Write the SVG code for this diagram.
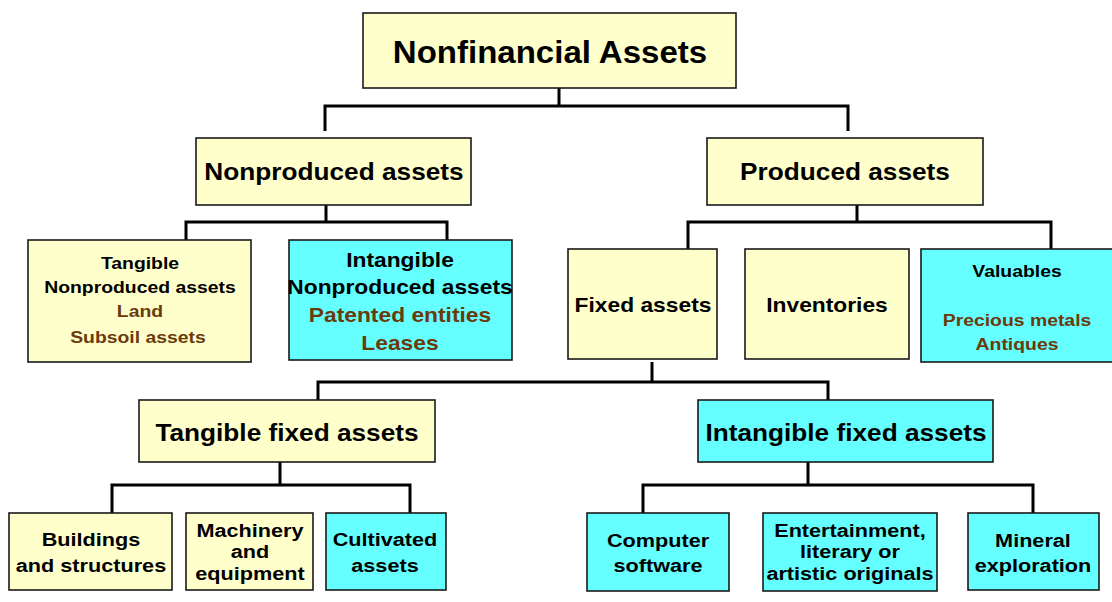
<svg xmlns="http://www.w3.org/2000/svg" width="1112" height="602" viewBox="0 0 1112 602">
<style>
.y{fill:#FFFFCC;stroke:#1a1a1a;stroke-width:1.6}
.c{fill:#66FFFF;stroke:#1a1a1a;stroke-width:1.6}
text{font-family:"Liberation Sans",Arial,sans-serif;font-weight:bold;text-anchor:middle;fill:#000;transform-box:fill-box;transform-origin:center;transform:scaleX(1.14)}
text.r{transform:scaleX(1.065)}
.b{fill:#6B3A0B}
.ln{fill:none;stroke:#000;stroke-width:3;stroke-linejoin:miter}
</style>
<rect width="1112" height="602" fill="#fff"/>
<g id="connectors">
<path class="ln" d="M559 88V106M325 131V106H848V131"/>
<path class="ln" d="M326 205V222M186 240V222H447V240"/>
<path class="ln" d="M857 205V222M688 249V222H1051V249"/>
<path class="ln" d="M652 362V382M318 400V382H828V400"/>
<path class="ln" d="M280 462V485M112 513V485H410V513"/>
<path class="ln" d="M808 462V485M643 513V485H1033V513"/>
</g>
<g id="root"><rect class="y" x="363" y="13" width="373" height="75"/><text class="r" x="550" y="63" font-size="31">Nonfinancial Assets</text></g>
<g id="nonproduced"><rect class="y" x="196" y="138" width="275" height="67"/><text x="334" y="180" font-size="23">Nonproduced assets</text></g>
<g id="produced"><rect class="y" x="707" y="138" width="276" height="67"/><text x="845" y="180" font-size="23">Produced assets</text></g>
<g id="tangible-nonproduced"><rect class="y" x="28" y="240" width="223" height="122"/>
<text x="140" y="269" font-size="17">Tangible</text><text x="140" y="293" font-size="17">Nonproduced assets</text>
<text x="140" y="317" font-size="17" class="b">Land</text><text x="138" y="343" font-size="17" class="b">Subsoil assets</text></g>
<g id="intangible-nonproduced"><rect class="c" x="289" y="240" width="223" height="120"/>
<text x="400" y="267" font-size="20">Intangible</text><text x="400" y="294" font-size="20">Nonproduced assets</text>
<text x="400" y="322" font-size="20" class="b">Patented entities</text><text x="400" y="350" font-size="20" class="b">Leases</text></g>
<g id="fixed"><rect class="y" x="568" y="249" width="149" height="110"/><text x="643" y="312" font-size="20">Fixed assets</text></g>
<g id="inventories"><rect class="y" x="745" y="249" width="164" height="110"/><text x="827" y="312" font-size="20">Inventories</text></g>
<g id="valuables"><rect class="c" x="921" y="249" width="195" height="113"/>
<text x="1017" y="277" font-size="17">Valuables</text>
<text x="1017" y="326" font-size="17" class="b">Precious metals</text><text x="1017" y="350" font-size="17" class="b">Antiques</text></g>
<g id="tangible-fixed"><rect class="y" x="139" y="400" width="296" height="62"/><text x="287" y="441" font-size="23">Tangible fixed assets</text></g>
<g id="intangible-fixed"><rect class="c" x="698" y="400" width="295" height="62"/><text x="846" y="441" font-size="23">Intangible fixed assets</text></g>
<g id="buildings"><rect class="y" x="9" y="513" width="163" height="77"/>
<text x="91" y="546" font-size="19">Buildings</text><text x="91" y="572" font-size="19">and structures</text></g>
<g id="machinery"><rect class="y" x="186" y="513" width="127" height="77"/>
<text x="250" y="537" font-size="19">Machinery</text><text x="250" y="558" font-size="19">and</text><text x="250" y="580" font-size="19">equipment</text></g>
<g id="cultivated"><rect class="c" x="326" y="513" width="120" height="77"/>
<text x="385" y="546" font-size="19">Cultivated</text><text x="385" y="572" font-size="19">assets</text></g>
<g id="software"><rect class="c" x="587" y="513" width="142" height="78"/>
<text x="658" y="547" font-size="19">Computer</text><text x="658" y="572" font-size="19">software</text></g>
<g id="entertainment"><rect class="c" x="763" y="513" width="174" height="78"/>
<text x="850" y="537" font-size="19">Entertainment,</text><text x="850" y="558" font-size="19">literary or</text><text x="850" y="580" font-size="19">artistic originals</text></g>
<g id="mineral"><rect class="c" x="968" y="513" width="131" height="77"/>
<text x="1033" y="547" font-size="19">Mineral</text><text x="1033" y="572" font-size="19">exploration</text></g>
</svg>
